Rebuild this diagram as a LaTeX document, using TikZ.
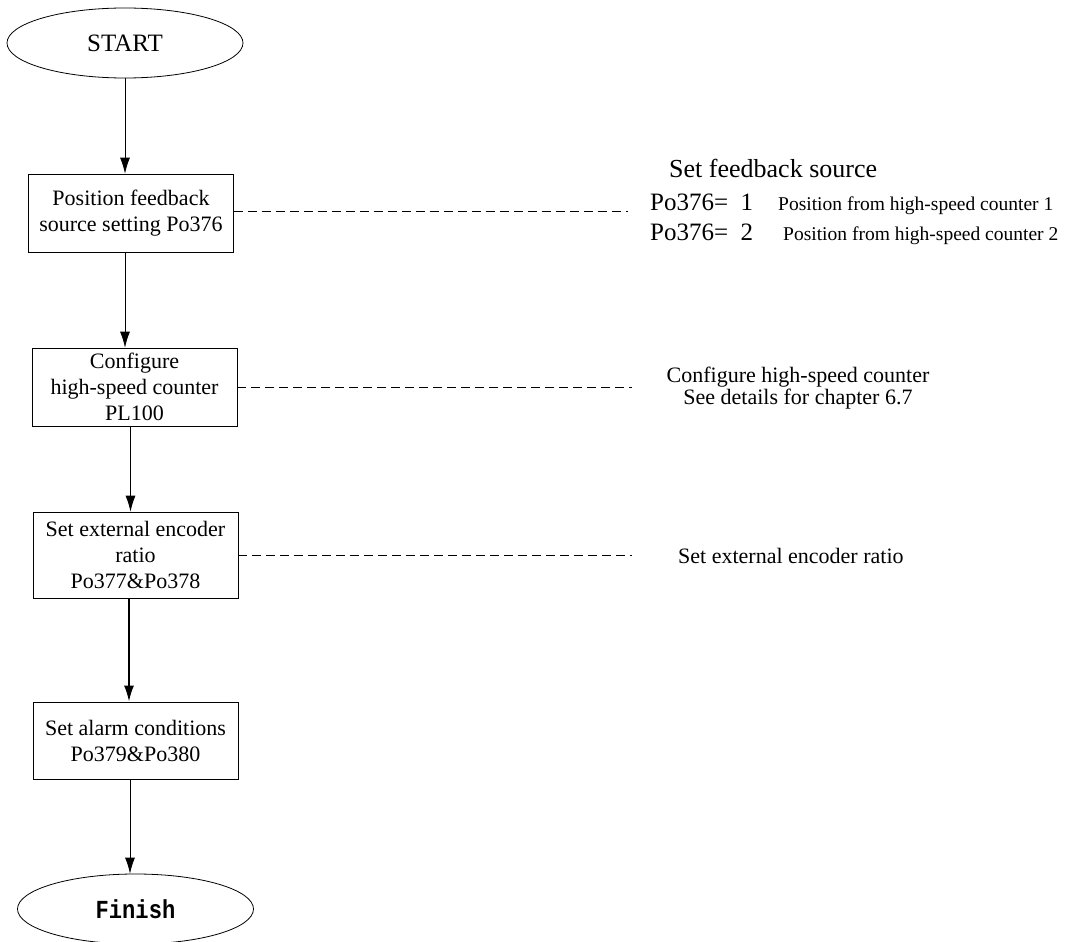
\documentclass[tikz,border=0pt]{standalone}
\usepackage{fontspec}
\setmainfont{Liberation Serif}
\newfontfamily\finfont[FakeStretch=0.85]{Liberation Mono}
\usetikzlibrary{shapes.geometric,arrows.meta}
\begin{document}
\begin{tikzpicture}[x=1pt,y=-1pt,
  boxtext/.style={font=\fontsize{22}{26}\selectfont},
  term/.style={ellipse,draw,line width=0.8pt,inner sep=0pt,minimum width=236pt,minimum height=70pt},
  stepbox/.style={rectangle,draw,line width=0.8pt,inner sep=0pt,minimum width=205pt,align=center,boxtext},
  arr/.style={line width=0.8pt,-{Latex[length=16pt,width=10pt]}},
  dashline/.style={line width=0.9pt,dash pattern=on 9pt off 5pt},
  note/.style={font=\fontsize{22}{20}\selectfont,align=center,inner sep=0pt},
  small/.style={font=\fontsize{19.5}{20}\selectfont,anchor=base west,inner sep=0pt},
  pnum/.style={font=\fontsize{25}{26}\selectfont,anchor=base west,inner sep=0pt}]
\useasboundingbox (0,0) rectangle (1066,942);
\node[term,font=\fontsize{25}{26}\selectfont] (start) at (125,43) {START};
\node[stepbox,minimum height=78pt] (b1) at (131,213) {Position feedback\\source setting Po376};
\node[stepbox,minimum height=78pt] (b2) at (134.5,387) {Configure\\high-speed counter\\PL100};
\node[stepbox,minimum height=86pt] (b3) at (135.5,555) {Set external encoder\\ratio\\Po377\&Po378};
\node[stepbox,minimum height=77pt] (b4) at (135.5,740.5) {Set alarm conditions\\Po379\&Po380};
\node[term,font=\finfont\bfseries\fontsize{26}{28}\selectfont] (fin) at (135.5,909) {Finish};

\draw[arr] (start.south) -- (start.south |- b1.north);
\draw[arr] ([xshift=-6pt]b1.south) -- ([xshift=-6pt]b1.south |- b2.north);
\draw[arr] ([xshift=-4pt]b2.south) -- ([xshift=-4pt]b2.south |- b3.north);
\draw[arr,line width=1.6pt] ([xshift=-6.5pt]b3.south) -- ([xshift=-6.5pt]b3.south |- b4.north);
\draw[arr] ([xshift=-5.5pt]b4.south) -- ([xshift=-5.5pt]b4.south |- fin.north);

\coordinate (d1) at (628,211);
\coordinate (d2) at (632,387);
\coordinate (d3) at (632,555);
\draw[dashline] (b1.east |- d1) -- (d1);
\draw[dashline] (b2.east |- d2) -- (d2);
\draw[dashline] (b3.east |- d3) -- (d3);

\node[font=\fontsize{26}{28}\selectfont,anchor=base west,inner sep=0pt] (h1) at (669,177) {Set feedback source};
\node[pnum] (p1) at (650,210) {Po376=\ \ 1};
\node[pnum] (p2) at (650,240) {Po376=\ \ 2};
\node[small] (s1) at (778,210) {Position from high-speed counter 1};
\node[small] (s2) at (783,240) {Position from high-speed counter 2};
\node[note] (n2) at (798,388) {Configure high-speed counter\\See details for chapter 6.7};
\node[font=\fontsize{22}{24}\selectfont,anchor=base west,inner sep=0pt] (n3) at (678,563) {Set external encoder ratio};
\end{tikzpicture}
\end{document}
